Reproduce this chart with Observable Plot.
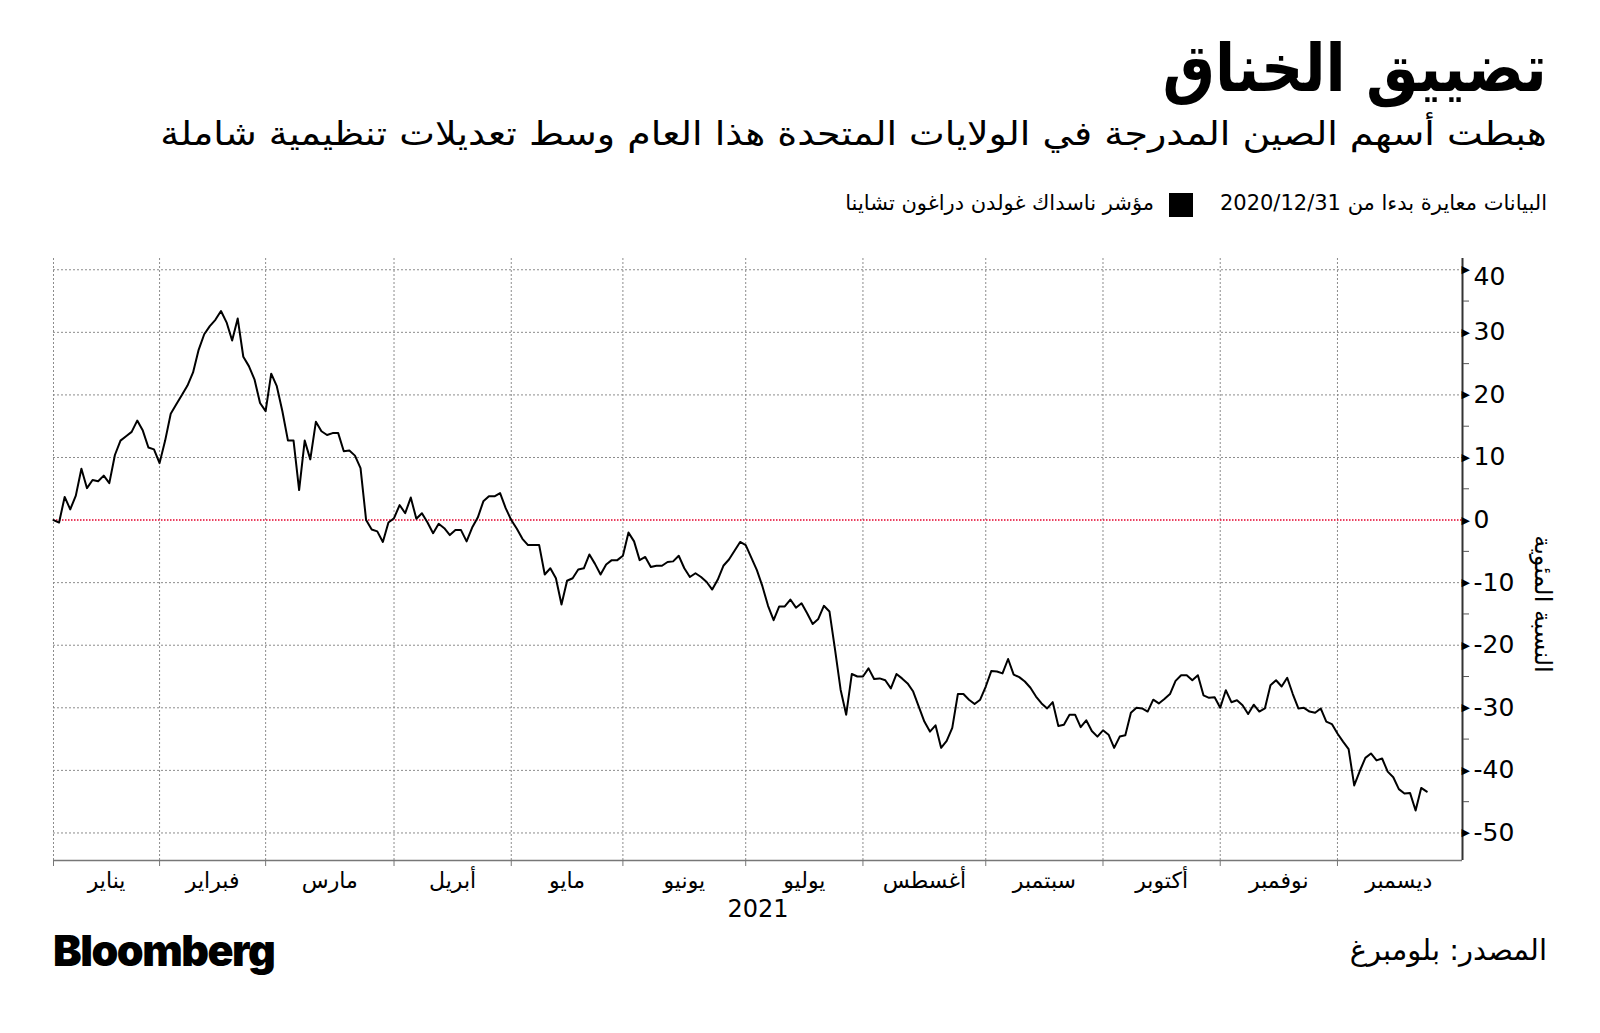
<!DOCTYPE html>
<html><head><meta charset="utf-8">
<script src="https://cdn.jsdelivr.net/npm/d3@7"></script>
<script src="https://cdn.jsdelivr.net/npm/@observablehq/plot@0.6"></script>
<style>
body{margin:0;background:#fff;}
#wrap{position:relative;width:1600px;height:1033px;overflow:hidden;font-family:"DejaVu Sans",sans-serif;color:#000;}
.t{position:absolute;white-space:nowrap;direction:rtl;line-height:1;}
</style></head><body><div id="wrap">
<div id="chart" style="position:absolute;left:0;top:0"></div>
<div class="t" style="right:53px;top:36px;font-size:66px;font-weight:bold;transform:scaleX(0.89);transform-origin:right center;">تضييق الخناق</div>
<div class="t" style="right:53px;top:117px;font-size:33px;transform:scaleX(1.15);transform-origin:right center;">هبطت أسهم الصين المدرجة في الولايات المتحدة هذا العام وسط تعديلات تنظيمية شاملة</div>
<div class="t" style="right:53px;top:193px;font-size:21px;">البيانات معايرة بدءا من 2020/12/31</div>
<div style="position:absolute;left:1169px;top:193px;width:24px;height:24px;background:#000;"></div>
<div class="t" style="right:446px;top:193px;font-size:21px;">مؤشر ناسداك غولدن دراغون تشاينا</div>
<div class="t" style="left:1543px;top:604px;font-size:24px;transform:translate(-50%,-50%) rotate(90deg);">النسبة المئوية</div>
<div style="position:absolute;left:53px;top:929px;font-family:Inter,sans-serif;font-weight:900;font-size:43px;letter-spacing:-1.5px;line-height:1;">Bloomberg</div>
<div class="t" style="right:53px;top:936px;font-size:29px;">المصدر: بلومبرغ</div>
</div>
<script>
// Nasdaq Golden Dragon China index, % change rebased to 2020/12/31, one value per trading day (from Jan 4 to Dec 23, 2021)
const values = [
0,-0.4,3.7,1.7,3.9,8.2,5.1,6.4,6.2,7.1,5.9,10.4,12.7,13.4,14.1,15.9,14.3,11.6,11.3,
9.1,12.7,17.0,18.5,20.0,21.5,23.6,27.2,29.7,31.0,32.0,33.4,31.6,28.7,32.2,26.1,24.6,22.5,18.7,
17.4,23.4,21.4,17.4,12.7,12.7,4.8,12.7,9.7,15.7,14.2,13.6,13.9,13.9,11.0,11.1,10.3,8.3,0,-1.5,-1.8,-3.5,-0.4,
0.3,2.4,1.1,3.6,0.2,1.1,-0.4,-2.1,-0.6,-1.3,-2.4,-1.6,-1.6,-3.4,-1.2,0.4,3.0,3.8,3.8,4.3,1.9,
0,-1.4,-3.0,-4.0,-4.0,-4.0,-8.7,-7.7,-9.3,-13.5,-9.7,-9.3,-7.9,-7.7,-5.5,-7.0,-8.7,-7.1,-6.4,-6.4,
-5.7,-2.0,-3.4,-6.4,-5.9,-7.5,-7.3,-7.3,-6.7,-6.6,-5.7,-7.7,-9.1,-8.5,-9.1,-9.9,-11.1,-9.5,-7.3,-6.3,-4.9,-3.5,
-4.0,-6.0,-8.0,-10.6,-13.7,-16.0,-13.8,-13.8,-12.7,-14.0,-13.3,-14.9,-16.6,-15.8,-13.7,-14.6,-20.7,-27.1,-31.1,-24.6,-25.0,
-25.0,-23.7,-25.4,-25.3,-25.6,-26.9,-24.6,-25.3,-26.1,-27.4,-29.8,-32.2,-33.8,-32.8,-36.4,-35.3,-33.2,-27.8,-27.8,-28.7,-29.4,-28.7,
-26.6,-24.1,-24.2,-24.5,-22.2,-24.7,-25.1,-25.8,-26.8,-28.2,-29.3,-30.1,-29.1,-32.9,-32.7,-31.1,-31.1,-33.1,-32.0,-33.7,-34.6,
-33.6,-34.3,-36.4,-34.6,-34.4,-30.8,-30.0,-30.1,-30.6,-28.7,-29.3,-28.6,-27.8,-25.7,-24.8,-24.8,-25.6,-24.8,-28.0,-28.4,-28.3,
-30.0,-27.2,-29.1,-28.8,-29.6,-31.0,-29.5,-30.6,-30.1,-26.4,-25.6,-26.6,-25.2,-27.8,-30.1,-30.0,-30.6,-30.8,-30.1,-32.2,-32.6,
-34.1,-35.4,-36.6,-42.4,-40.1,-38.0,-37.3,-38.4,-38.1,-40.2,-41.1,-43.0,-43.7,-43.6,-46.4,-42.8,-43.4
];
const monthNames = ["يناير","فبراير","مارس","أبريل","مايو","يونيو","يوليو","أغسطس","سبتمبر","أكتوبر","نوفمبر","ديسمبر"];
const tradingDaysPerMonth = [19,19,23,21,20,22,21,22,21,21,21,22];
const yTicks = [40,30,20,10,0,-10,-20,-30,-40,-50];
const yMinorTicks = [35,25,15,5,-5,-15,-25,-35,-45];
const yearLabel = "2021";

const monthStarts = [0];
tradingDaysPerMonth.forEach((d,i)=>monthStarts.push(monthStarts[i]+d));
const monthMids = tradingDaysPerMonth.map((d,i)=>monthStarts[i]+d/2);
const data = values.map((v,i)=>({i, v}));
const xDomain = [0, 252.4];
const yDomain = [-54.4, 41.8];
const topTick = yTicks[0];

const chart = Plot.plot({
  width: 1600, height: 1033,
  marginLeft: 53, marginRight: 138, marginTop: 258, marginBottom: 173,
  x: {domain: xDomain, axis: null},
  y: {domain: yDomain, axis: null},
  style: {fontFamily: "DejaVu Sans", background: "transparent", color: "#000"},
  marks: [
    Plot.ruleY(yTicks.filter(d => d !== 0), {stroke: "#8c8c8c", strokeDasharray: "2,2", strokeWidth: 1}),
    Plot.ruleX(monthStarts.slice(0, 12), {stroke: "#8c8c8c", strokeDasharray: "2,2", strokeWidth: 1}),
    Plot.ruleY([0], {stroke: "#e4002b", strokeDasharray: "1.5,1.5", strokeWidth: 1.5}),
    Plot.ruleY([yDomain[0]], {stroke: "#777", strokeWidth: 1.5}),
    Plot.axisX(monthStarts.slice(0, 12), {tickSize: 6, tickFormat: () => "", stroke: "#777", label: null}),
    Plot.axisX(monthMids, {tickSize: 0, tickPadding: 12, fontSize: 22, label: null,
      tickFormat: d => monthNames[monthMids.indexOf(d)]}),
    Plot.text([yearLabel], {frameAnchor: "bottom", dy: 56, fontSize: 24}),
    Plot.ruleX([xDomain[1]], {stroke: "#333", strokeWidth: 2}),
    Plot.axisY(yMinorTicks, {anchor: "right", tickSize: 6, tickFormat: () => "", stroke: "#555", label: null}),
    Plot.axisY(yTicks.filter(d => d !== topTick), {anchor: "right", tickSize: 0, tickPadding: 11, fontSize: 25, label: null,
      tickFormat: d => String(d)}),
    Plot.axisY([topTick], {anchor: "right", tickSize: 0, tickPadding: 11, fontSize: 25, label: null, dy: 7,
      tickFormat: d => String(d)}),
    Plot.text(yTicks, {y: d => d, text: () => "▶", frameAnchor: "right", textAnchor: "start", dx: -1, fontSize: 11, fill: "#000"}),
    Plot.line(data, {x: "i", y: "v", stroke: "#000", strokeWidth: 2})
  ]
});
document.getElementById("chart").appendChild(chart);
</script>
</body></html>
